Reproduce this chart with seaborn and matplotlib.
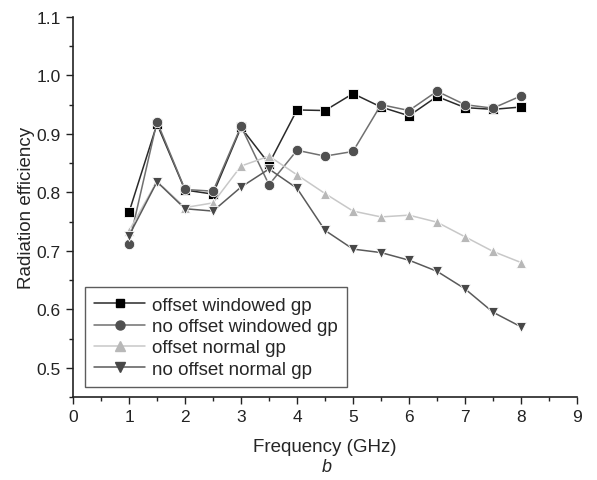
import matplotlib
matplotlib.use("Agg")
import matplotlib.pyplot as plt
import seaborn as sns
import pandas as pd
from matplotlib.lines import Line2D
from matplotlib.ticker import MultipleLocator

freq = [1, 1.5, 2, 2.5, 3, 3.5, 4, 4.5, 5, 5.5, 6, 6.5, 7, 7.5, 8]
offset_windowed = [0.766, 0.917, 0.804, 0.797, 0.911, 0.849, 0.941, 0.940, 0.969, 0.946, 0.931, 0.964, 0.945, 0.942, 0.946]
no_offset_windowed = [0.712, 0.921, 0.805, 0.802, 0.913, 0.813, 0.872, 0.862, 0.870, 0.950, 0.940, 0.973, 0.950, 0.944, 0.965]
offset_normal = [0.734, 0.819, 0.774, 0.782, 0.845, 0.862, 0.830, 0.798, 0.768, 0.758, 0.761, 0.749, 0.724, 0.699, 0.680]
no_offset_normal = [0.726, 0.818, 0.772, 0.768, 0.809, 0.840, 0.807, 0.735, 0.703, 0.697, 0.684, 0.665, 0.635, 0.595, 0.570]
labels = ["offset windowed gp", "no offset windowed gp", "offset normal gp", "no offset normal gp"]

sns.set_theme(style="ticks")
plt.rcParams['font.family'] = ['Liberation Sans', 'DejaVu Sans']

fig = plt.figure(figsize=(5.97, 4.81), dpi=100)
ax = fig.add_axes([0.1223, 0.1726, 0.8442, 0.79])

series = [offset_windowed, no_offset_windowed, offset_normal, no_offset_normal]
markers = ["s", "o", "^", "v"]
mcolors = ["#000000", "#505050", "#b8b8b8", "#484848"]
lcolors = ["#2a2a2a", "#707070", "#c8c8c8", "#5a5a5a"]
msizes = [6.5, 7.5, 7.5, 7.5]

handles = []
for vals, lab, m, mc, lc, ms in zip(series, labels, markers, mcolors, lcolors, msizes):
    df = pd.DataFrame({"f": freq, "v": vals})
    sns.lineplot(data=df, x="f", y="v", ax=ax, color=lc, lw=1.1, legend=False,
                 marker=m, markersize=ms, markerfacecolor=mc, markeredgecolor="white",
                 markeredgewidth=0.6)
    handles.append(Line2D([], [], color=lc, lw=1.1, marker=m, markersize=ms - 1,
                          markerfacecolor=mc, markeredgecolor=mc))

ax.set_xlim(0, 9)
ax.set_ylim(0.45, 1.1)
ax.xaxis.set_major_locator(MultipleLocator(1))
ax.xaxis.set_minor_locator(MultipleLocator(0.5))
ax.yaxis.set_minor_locator(MultipleLocator(0.05))
ax.set_yticks([0.5, 0.6, 0.7, 0.8, 0.9, 1.0, 1.1])
ax.set_yticklabels(["0.5", "0.6", "0.7", "0.8", "0.9", "1.0", "1.1"])
ax.tick_params(which="major", direction="out", length=5, width=1, labelsize=12.5,
               colors="#222222", pad=4)
ax.tick_params(which="minor", direction="out", length=3, width=1, colors="#222222")
for s in ["top", "right"]:
    ax.spines[s].set_visible(False)
for s in ["left", "bottom"]:
    ax.spines[s].set_color("#222222")
    ax.spines[s].set_linewidth(1.2)

ax.set_xlabel("Frequency (GHz)", fontsize=13.5, labelpad=10)
ax.set_ylabel("Radiation efficiency", fontsize=13.5, labelpad=1)
fig.text(0.548, 0.028, "b", fontsize=13, style="italic", ha="center", va="center")

leg = ax.legend(handles, labels, loc="lower left", bbox_to_anchor=(0.024, 0.026),
                borderaxespad=0, fontsize=13.5, frameon=True, fancybox=False,
                handlelength=2.7, handletextpad=0.35, labelspacing=0.22,
                borderpad=0.5)
leg.get_frame().set_edgecolor("#333333")
leg.get_frame().set_linewidth(1.0)

fig.savefig("out.png", dpi=100)
